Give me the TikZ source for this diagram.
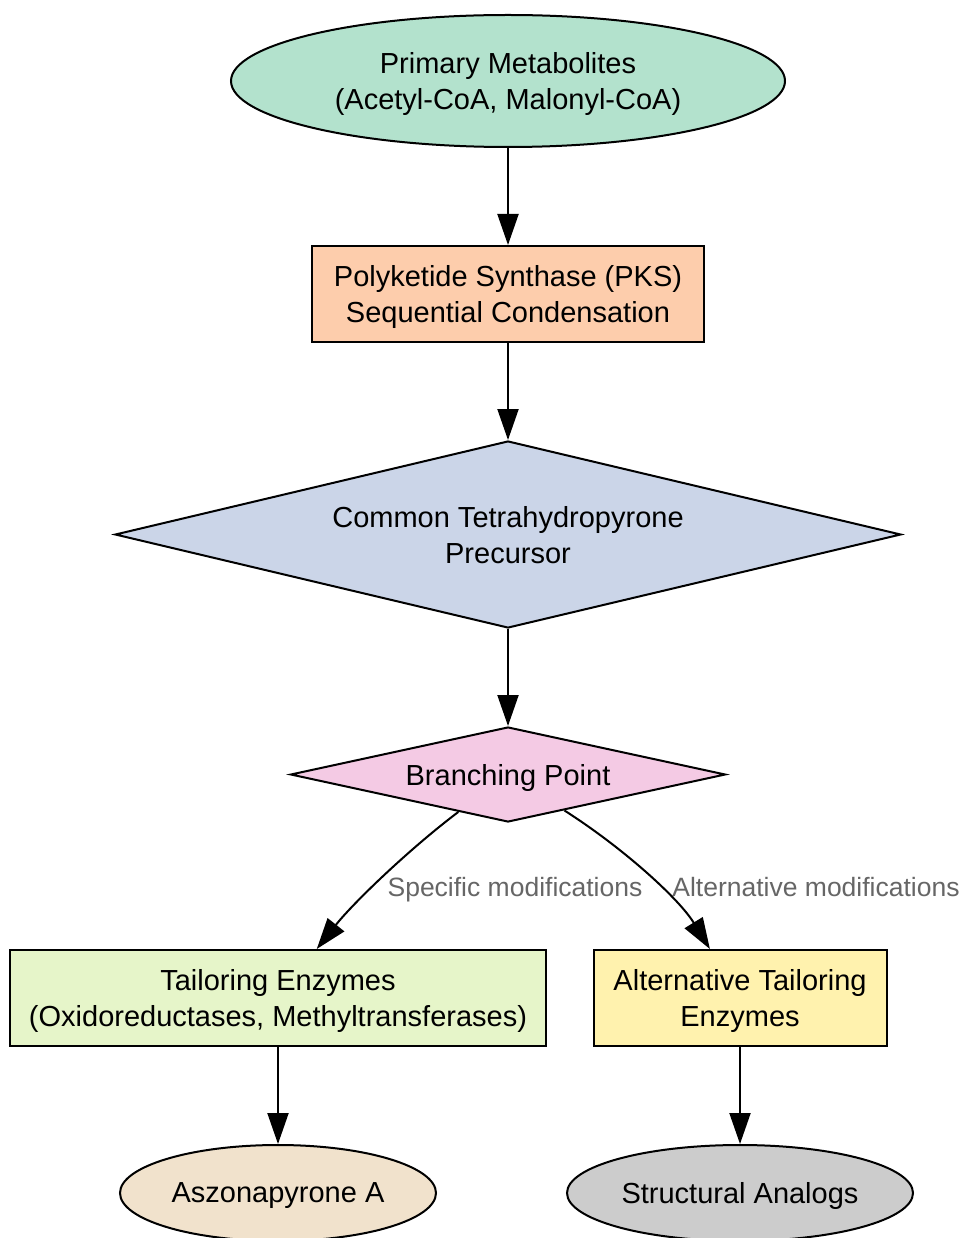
\documentclass[tikz,border=0pt]{standalone}
\usepackage{fontspec}
\setmainfont{Liberation Sans}
\usetikzlibrary{shapes.geometric,arrows.meta}
\definecolor{cpm}{HTML}{B3E2CD}
\definecolor{cpks}{HTML}{FDCDAC}
\definecolor{cctp}{HTML}{CBD5E8}
\definecolor{cbp}{HTML}{F4CAE4}
\definecolor{cte}{HTML}{E6F5C9}
\definecolor{cate}{HTML}{FFF2AE}
\definecolor{casz}{HTML}{F1E2CC}
\definecolor{csa}{HTML}{CCCCCC}
\definecolor{clbl}{HTML}{666666}
\begin{document}
\begin{tikzpicture}[x=1pt,y=-1pt,
  base/.style={draw=black, line width=2pt, inner sep=0pt, align=center,
    text depth=0pt, font=\fontsize{29}{36}\selectfont},
  ell/.style={base, ellipse},
  boxn/.style={base, rectangle},
  dia/.style={base, diamond},
  lbl/.style={text=clbl, inner sep=0pt, text depth=0pt, font=\fontsize{26.5}{32}\selectfont},
  arr/.style={line width=2pt, -{Triangle[length=31pt,width=21pt]}}
]
\useasboundingbox (0,0) rectangle (963,1238);
\fill[white] (0,0) rectangle (963,1238);

\node[ell, fill=cpm, minimum width=554pt, minimum height=132pt] (pm) at (508,81)
  {Primary Metabolites\\(Acetyl-CoA, Malonyl-CoA)};
\node[boxn, fill=cpks, minimum width=392pt, minimum height=96pt] (pks) at (508,294)
  {Polyketide Synthase (PKS)\\Sequential Condensation};
\node[dia, fill=cctp, aspect=4.2, minimum width=786pt, minimum height=187pt] (ctp) at (508,534.5)
  {Common Tetrahydropyrone\\Precursor};
\node[dia, fill=cbp, aspect=4.6, minimum width=435pt, minimum height=95pt] (bp) at (508,774.5)
  {Branching Point};
\node[boxn, fill=cte, minimum width=536pt, minimum height=96pt] (te) at (278,998)
  {Tailoring Enzymes\\(Oxidoreductases, Methyltransferases)};
\node[boxn, fill=cate, minimum width=293pt, minimum height=96pt] (ate) at (740,998)
  {Alternative Tailoring\\Enzymes};
\node[ell, fill=casz, minimum width=316pt, minimum height=96pt] (asz) at (278,1193)
  {Aszonapyrone A};
\node[ell, fill=csa, minimum width=346pt, minimum height=96pt] (sa) at (740,1193)
  {Structural Analogs};

\node[lbl] (l1) at (515,887) {Specific modifications};
\node[lbl] (l2) at (816,887) {Alternative modifications};

\draw[arr] (pm) -- (pks);
\draw[arr] (pks) -- (ctp);
\draw[arr] (ctp) -- (bp);
\draw[arr] (bp) .. controls (410.5,848) and (354,902) .. (te);
\draw[arr] (bp) .. controls (622.5,847.5) and (678.5,898) .. (ate);
\draw[arr] (te) -- (asz);
\draw[arr] (ate) -- (sa);
\end{tikzpicture}
\end{document}
